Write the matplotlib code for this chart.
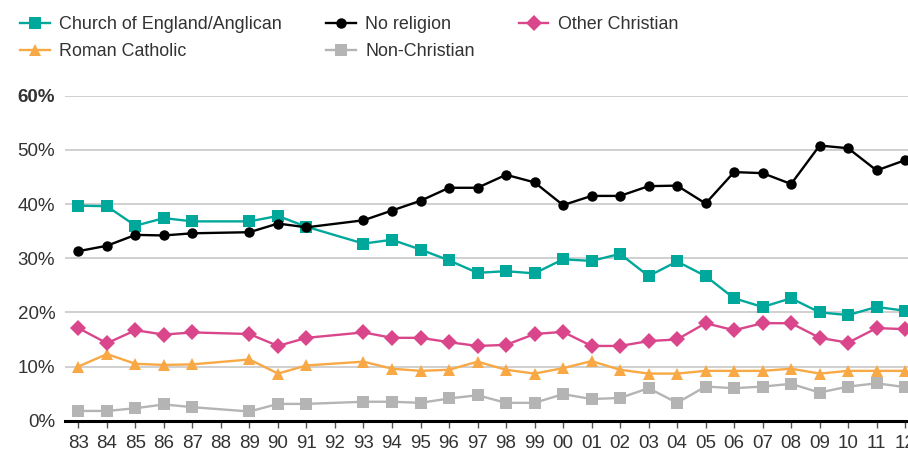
import matplotlib
matplotlib.use("Agg")
import matplotlib.pyplot as plt
import numpy as np

plt.rcParams["font.family"] = ["Liberation Sans", "DejaVu Sans"]

years = [1983, 1984, 1985, 1986, 1987, 1989, 1990, 1991, 1993, 1994, 1995, 1996,
         1997, 1998, 1999, 2000, 2001, 2002, 2003, 2004, 2005, 2006, 2007, 2008,
         2009, 2010, 2011, 2012]

church_of_england = [39.7, 39.6, 36.0, 37.4, 36.8, 36.8, 37.8, 35.8, 32.7, 33.4, 31.6, 29.6,
                     27.3, 27.6, 27.2, 29.8, 29.5, 30.8, 26.7, 29.4, 26.7, 22.6, 21.0, 22.6,
                     20.0, 19.5, 21.0, 20.3]
no_religion = [31.3, 32.3, 34.3, 34.2, 34.6, 34.8, 36.4, 35.7, 37.0, 38.8, 40.6, 43.0,
               43.0, 45.4, 44.0, 39.8, 41.5, 41.5, 43.3, 43.4, 40.1, 45.9, 45.7, 43.7,
               50.8, 50.3, 46.2, 48.1]
other_christian = [17.1, 14.3, 16.7, 15.9, 16.3, 16.0, 13.8, 15.3, 16.3, 15.3, 15.3, 14.5,
                   13.8, 14.0, 16.0, 16.4, 13.8, 13.8, 14.7, 15.0, 18.0, 16.7, 18.0, 18.0,
                   15.3, 14.4, 17.1, 16.9]
roman_catholic = [10.0, 12.3, 10.5, 10.3, 10.4, 11.3, 8.7, 10.2, 10.9, 9.6, 9.2, 9.4,
                  10.9, 9.4, 8.7, 9.7, 11.0, 9.4, 8.7, 8.7, 9.2, 9.2, 9.2, 9.6,
                  8.7, 9.2, 9.2, 9.2]
non_christian = [1.8, 1.8, 2.3, 3.0, 2.5, 1.7, 3.1, 3.1, 3.5, 3.5, 3.3, 4.1,
                 4.7, 3.3, 3.3, 4.9, 4.0, 4.2, 6.0, 3.3, 6.3, 6.0, 6.3, 6.8,
                 5.2, 6.3, 6.9, 6.2]

tick_years = list(range(1983, 2013))
y_ticks = [0, 10, 20, 30, 40, 50, 60]

series = [
    ("Church of England/Anglican", church_of_england, "#00A89C", "s", 8),
    ("Roman Catholic", roman_catholic, "#F8A845", "^", 9),
    ("No religion", no_religion, "#000000", "o", 7.5),
    ("Non-Christian", non_christian, "#B4B4B4", "s", 8),
    ("Other Christian", other_christian, "#DA468B", "D", 8.5),
]

fig = plt.figure(figsize=(9.08, 4.5), dpi=100)
ax = fig.add_axes([65 / 908, 1 - 420.7 / 450, 1 - 65 / 908, (420.7 - 95.7) / 450])

handles = {}
# back-to-front so black/teal sit on top
for name, vals, color, marker, ms in [series[3], series[1], series[4], series[0], series[2]]:
    h, = ax.plot(years, vals, color=color, marker=marker, markersize=ms,
                 linewidth=1.7, markeredgewidth=0, zorder=3)
    handles[name] = h

ax.set_xlim(1982.53, 2012.1)
ax.set_ylim(0, 60)
ax.set_yticks(y_ticks)
ax.set_yticklabels([f"{v}%" for v in y_ticks])
ax.get_yticklabels()[-1].set_fontweight("bold")
ax.set_xticks(tick_years)
ax.set_xticklabels([f"{y % 100:02d}" for y in tick_years])

ax.grid(axis="y", color="#C8C8C8", linewidth=1.2, zorder=0)
for s in ["top", "right", "left"]:
    ax.spines[s].set_visible(False)
ax.spines["bottom"].set_linewidth(2.2)
ax.spines["bottom"].set_color("#000000")
ax.spines["bottom"].set_zorder(4)
ax.tick_params(axis="y", length=0, pad=7, labelsize=13.5, labelcolor="#333333")
ax.tick_params(axis="x", length=5, width=1, color="#555555", pad=5,
               labelsize=13.5, labelcolor="#333333")

order = ["Church of England/Anglican", "Roman Catholic", "No religion",
         "Non-Christian", "Other Christian"]
fig.legend([handles[n] for n in order], order, ncol=3, loc="upper left",
           bbox_to_anchor=(20 / 908, 1 - 16 / 450), frameon=False, fontsize=12.9,
           labelcolor="#333333", handlelength=1.65, handletextpad=0.55,
           columnspacing=2.45, labelspacing=0.58, borderpad=0, borderaxespad=0)

fig.savefig("out.png", dpi=100)
